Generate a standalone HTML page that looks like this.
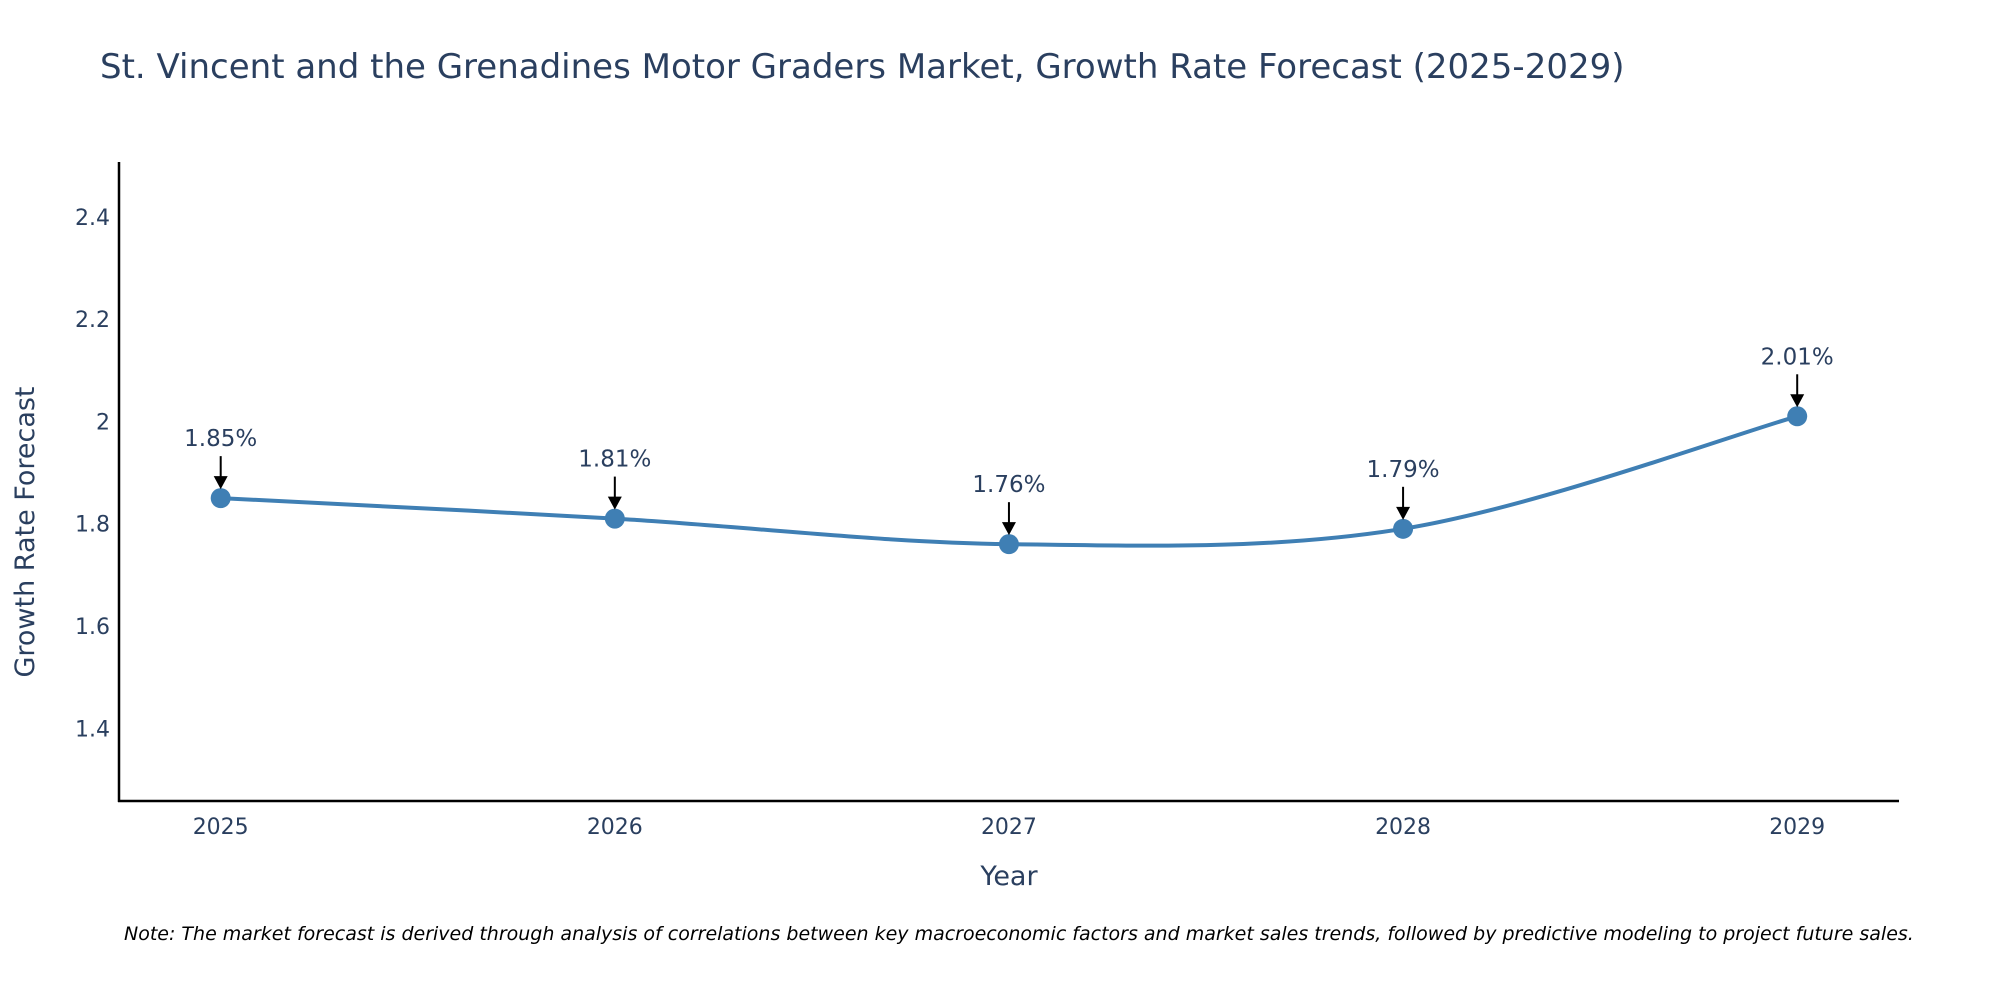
<!DOCTYPE html>
<html><head><meta charset="utf-8">
<style>
html,body{margin:0;padding:0;background:#fff;}
svg{display:block;font-family:"DejaVu Sans","Liberation Sans",sans-serif;}
</style></head>
<body>
<svg id="chart" width="2000" height="1000" viewBox="0 0 2000 1000" xmlns="http://www.w3.org/2000/svg">
<text x="100" y="78" font-size="34" fill="#2a3f5f">St. Vincent and the Grenadines Motor Graders Market, Growth Rate Forecast (2025-2029)</text>
<g id="yticks"></g>
<g id="xticks"></g>
<line x1="119" y1="162" x2="119" y2="802" stroke="#000" stroke-width="2.5"/>
<line x1="118" y1="801" x2="1899" y2="801" stroke="#000" stroke-width="2.5"/>
<text transform="translate(34,532) rotate(-90)" text-anchor="middle" font-size="27" fill="#2a3f5f">Growth Rate Forecast</text>
<text x="1009" y="885" text-anchor="middle" font-size="27" fill="#2a3f5f">Year</text>
<g id="series"></g>
<g id="annots"></g>
<text x="124" y="940" font-size="19" font-style="italic" fill="#000">Note: The market forecast is derived through analysis of correlations between key macroeconomic factors and market sales trends, followed by predictive modeling to project future sales.</text>
</svg>
<script>
const years = [2025, 2026, 2027, 2028, 2029];
const growth = [1.85, 1.81, 1.76, 1.79, 2.01];
const labels = ["1.85%", "1.81%", "1.76%", "1.79%", "2.01%"];
const yTicks = [1.4, 1.6, 1.8, 2, 2.2, 2.4];
const yTickLabels = ["1.4", "1.6", "1.8", "2", "2.2", "2.4"];

const NS = "http://www.w3.org/2000/svg";
const xS = v => 220.7 + (v - 2025) * (1797.2 - 220.7) / 4;
const yS = v => 728.3 - (v - 1.4) * (728.3 - 216.8) / 1.0;
function mk(tag, attrs, parent) {
  const e = document.createElementNS(NS, tag);
  for (const k in attrs) e.setAttribute(k, attrs[k]);
  parent.appendChild(e);
  return e;
}
const yt = document.getElementById("yticks");
yTicks.forEach((t, i) => {
  const e = mk("text", {x: 110, y: yS(t) + 8, "text-anchor": "end", "font-size": 22, fill: "#2a3f5f"}, yt);
  
  
  e.textContent = yTickLabels[i];
});
const xt = document.getElementById("xticks");
years.forEach(y => {
  const e = mk("text", {x: xS(y), y: 834, "text-anchor": "middle", "font-size": 22, fill: "#2a3f5f"}, xt);
  
  
  e.textContent = y;
});
const pts = years.map((y, i) => [xS(y), yS(growth[i])]);
let d = "M" + pts[0][0] + "," + pts[0][1];
for (let i = 0; i < pts.length - 1; i++) {
  const p0 = pts[Math.max(0, i - 1)], p1 = pts[i], p2 = pts[i + 1], p3 = pts[Math.min(pts.length - 1, i + 2)];
  const t = 0.5 / 3 * 2;
  const c1 = [p1[0] + (p2[0] - p0[0]) * t / 2, p1[1] + (p2[1] - p0[1]) * t / 2];
  const c2 = [p2[0] - (p3[0] - p1[0]) * t / 2, p2[1] - (p3[1] - p1[1]) * t / 2];
  d += " C" + c1 + " " + c2 + " " + p2;
}
const s = document.getElementById("series");
const line = mk("path", {d: d, fill: "none", stroke: "#3f7fb4", "stroke-width": 4}, s);


const an = document.getElementById("annots");
pts.forEach((p, i) => {
  const c = mk("circle", {cx: p[0], cy: p[1], r: 10, fill: "#3f7fb4"}, s);
  
  
  const l = mk("line", {x1: p[0], y1: p[1] - 42, x2: p[0], y2: p[1] - 20, stroke: "#000", "stroke-width": 2}, an);
  
  
  const h = mk("path", {d: `M${p[0]-7},${p[1]-22} L${p[0]+7},${p[1]-22} L${p[0]},${p[1]-9} Z`, fill: "#000"}, an);
  
  
  const tx = mk("text", {x: p[0], y: p[1] - 52, "text-anchor": "middle", "font-size": 23, fill: "#2a3f5f"}, an);
  
  
  tx.textContent = labels[i];
});
</script>
</body></html>
